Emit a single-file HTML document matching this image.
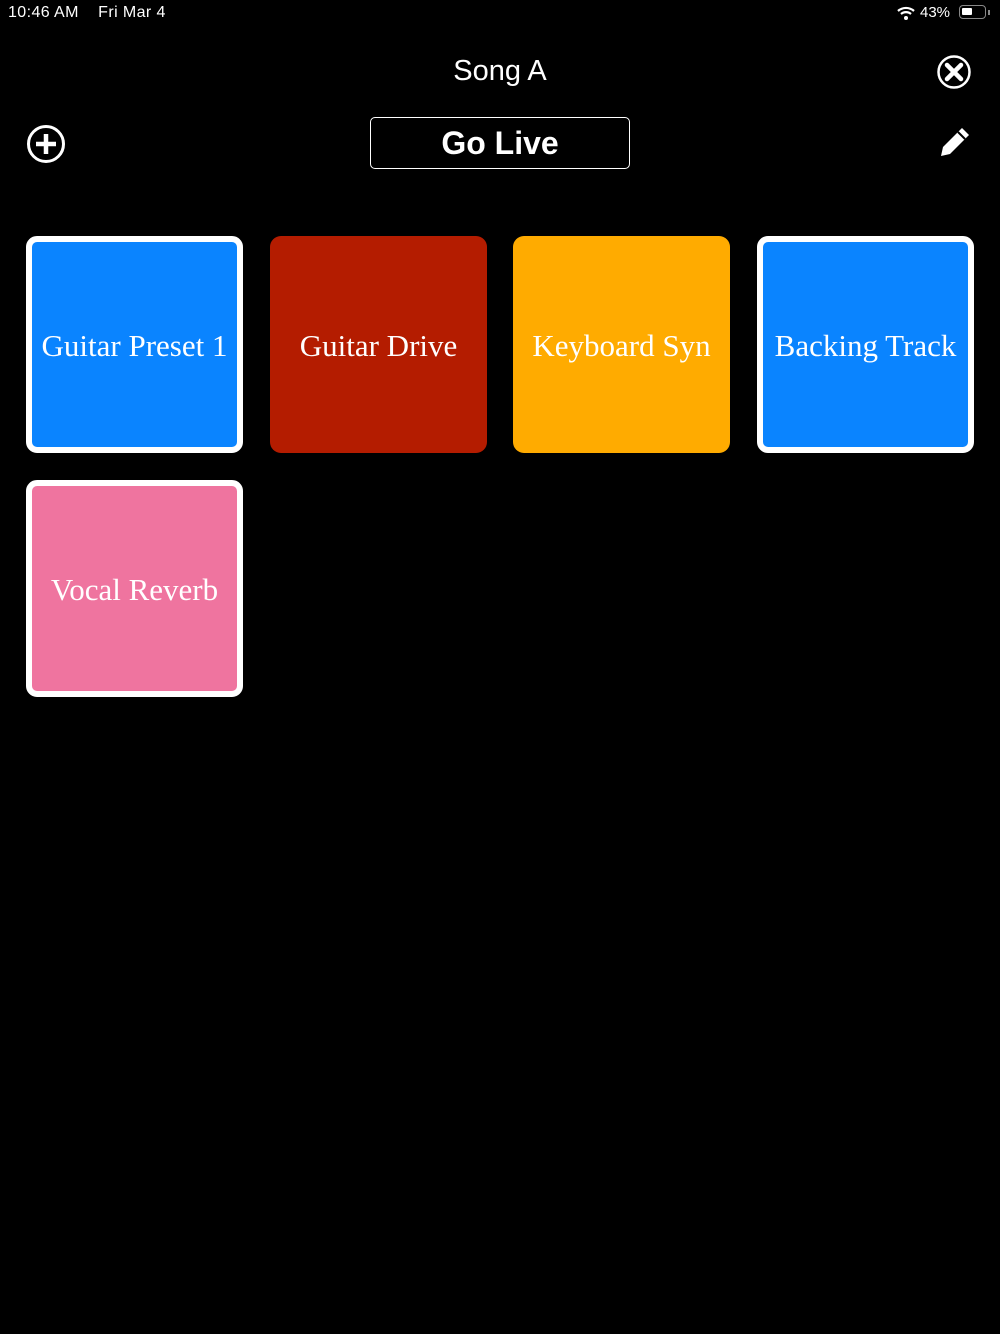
<!DOCTYPE html>
<html><head><style>
body{margin:0;width:1000px;height:1334px;background:#000;position:relative;overflow:hidden;font-family:"Liberation Sans",sans-serif;color:#fff}
.t{position:absolute;width:217px;height:217px;box-sizing:border-box;border-radius:11px;display:flex;align-items:center;justify-content:center;font-family:"Liberation Serif",serif;font-size:31px;white-space:nowrap;padding-top:2px}
.b{border:6px solid #fff}
</style></head><body>
<div style="position:absolute;left:8px;top:4px;font-size:16px;letter-spacing:0.4px">10:46 AM&nbsp;&nbsp;&nbsp;&nbsp;Fri Mar 4</div>
<div style="position:absolute;left:920px;top:4px;font-size:15px">43%</div>
<svg style="position:absolute;left:896px;top:5px" width="20" height="16" viewBox="0 0 20 16"><path d="M2 6 A12 12 0 0 1 18 6" stroke="#fff" stroke-width="2.2" fill="none"/><path d="M5 9 A7.5 7.5 0 0 1 15 9" stroke="#fff" stroke-width="2.2" fill="none"/><circle cx="10" cy="13" r="2" fill="#fff"/></svg>
<div style="position:absolute;left:959px;top:5px;width:27px;height:14px;border:1.5px solid #888;border-radius:4px;box-sizing:border-box"><div style="position:absolute;left:2px;top:2px;width:10px;height:7px;background:#fff;border-radius:1px"></div></div>
<div style="position:absolute;left:988px;top:10px;width:2px;height:5px;background:#888"></div>
<div style="position:absolute;left:0;width:1000px;top:55px;text-align:center;font-size:29px">Song A</div>
<svg style="position:absolute;left:936px;top:54px" width="36" height="36"><circle cx="18" cy="18" r="15.5" stroke="#fff" stroke-width="2.5" fill="none"/><path d="M11 11 L25 25 M25 11 L11 25" stroke="#fff" stroke-width="4.5" stroke-linecap="round"/></svg>
<svg style="position:absolute;left:25px;top:123px" width="42" height="42"><circle cx="21" cy="21" r="17.5" stroke="#fff" stroke-width="3" fill="none"/><path d="M21 11 V31 M11 21 H31" stroke="#fff" stroke-width="4.5"/></svg>
<div style="position:absolute;left:370px;top:117px;width:260px;height:52px;border:1.5px solid #fff;border-radius:5px;box-sizing:border-box;display:flex;align-items:center;justify-content:center;font-size:32px;font-weight:bold">Go Live</div>
<svg style="position:absolute;left:938px;top:125px" width="34" height="34" viewBox="0 0 34 34"><path d="M24 3 L31 10 L12 29 L3 31 L5 22 Z" fill="#fff"/><path d="M20 7 L27 14" stroke="#000" stroke-width="2"/></svg>
<div class="t b" style="left:26px;top:236px;background:#0a84ff">Guitar Preset 1</div>
<div class="t" style="left:270px;top:236px;background:#b41c00">Guitar Drive</div>
<div class="t" style="left:513px;top:236px;background:#ffab00">Keyboard Syn</div>
<div class="t b" style="left:757px;top:236px;background:#0a84ff">Backing Track</div>
<div class="t b" style="left:26px;top:480px;background:#ef749f">Vocal Reverb</div>
</body></html>
